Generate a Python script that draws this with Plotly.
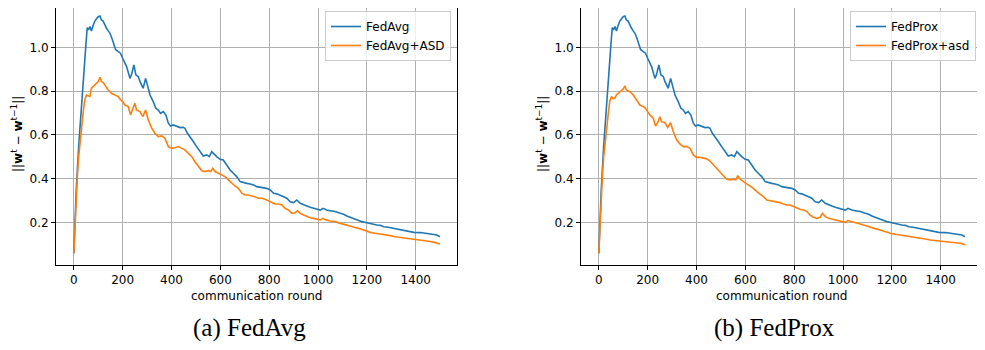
import plotly.graph_objects as go

# ---------------- data ----------------
rounds_blue = [0, 5, 10, 20, 30, 40, 50, 55, 60, 66, 72, 79, 86, 93, 100, 107, 113, 120, 127, 134,
               141, 148, 155, 161, 171, 182, 191, 200, 209, 216, 223, 230, 236, 246, 254, 264, 271,
               284, 294, 305, 312, 325, 336, 346, 355, 366, 377, 387, 396, 407, 421, 435, 448, 455,
               465, 476, 489, 503, 517, 530, 544, 555, 565, 574, 585, 599, 612, 626, 640, 653, 667,
               681, 694, 708, 722, 736, 749, 770, 790, 804, 818, 831, 845, 859, 872, 886, 900, 913,
               927, 941, 954, 968, 982, 995, 1009, 1020, 1036, 1050, 1070, 1091, 1105, 1118, 1132,
               1146, 1159, 1180, 1200, 1221, 1241, 1255, 1269, 1287, 1310, 1330, 1351, 1371, 1392,
               1419, 1446, 1467, 1487, 1499]
fedavg = [0.058, 0.22, 0.35, 0.55, 0.72, 0.87, 1.02, 1.09, 1.08, 1.095, 1.075, 1.10, 1.12, 1.13,
          1.14, 1.143, 1.125, 1.12, 1.10, 1.087, 1.075, 1.064, 1.045, 1.026, 0.99, 0.98, 0.973,
          0.95, 0.927, 0.912, 0.885, 0.858, 0.874, 0.919, 0.874, 0.866, 0.843, 0.813, 0.858, 0.805,
          0.782, 0.752, 0.721, 0.713, 0.698, 0.706, 0.69, 0.653, 0.64, 0.645, 0.64, 0.633, 0.634,
          0.63, 0.607, 0.592, 0.569, 0.546, 0.523, 0.503, 0.508, 0.5, 0.523, 0.512, 0.5, 0.488,
          0.485, 0.462, 0.439, 0.424, 0.409, 0.386, 0.381, 0.378, 0.375, 0.371, 0.363, 0.36, 0.355,
          0.348, 0.333, 0.33, 0.325, 0.317, 0.31, 0.294, 0.29, 0.302, 0.287, 0.279, 0.275, 0.269,
          0.264, 0.26, 0.256, 0.264, 0.256, 0.253, 0.249, 0.241, 0.237, 0.229, 0.223, 0.215, 0.211,
          0.203, 0.198, 0.192, 0.188, 0.186, 0.18, 0.177, 0.172, 0.168, 0.162, 0.157, 0.154, 0.153,
          0.15, 0.147, 0.142, 0.134]
fedprox = list(fedavg)  # the blue curve is the same in both panels

rounds_asd = [0, 5, 10, 15, 20, 30, 40, 45, 52, 59, 66, 72, 79, 86, 93, 100, 107, 113, 120, 127,
              134, 141, 154, 168, 182, 191, 200, 209, 223, 232, 243, 250, 257, 271, 282, 294, 305,
              319, 332, 346, 360, 373, 387, 400, 414, 428, 442, 455, 469, 483, 496, 510, 524, 537,
              551, 561, 569, 578, 592, 606, 619, 633, 647, 660, 674, 688, 701, 715, 729, 742, 756,
              770, 783, 797, 810, 824, 838, 852, 865, 879, 893, 906, 916, 927, 941, 954, 968, 982,
              995, 1009, 1020, 1033, 1050, 1070, 1091, 1111, 1132, 1152, 1173, 1193, 1214, 1234,
              1255, 1275, 1296, 1316, 1337, 1357, 1378, 1405, 1433, 1460, 1480, 1499]
fedavg_asd = [0.058, 0.2, 0.33, 0.42, 0.5, 0.62, 0.72, 0.76, 0.782, 0.778, 0.775, 0.813, 0.82,
              0.828, 0.835, 0.843, 0.863, 0.843, 0.84, 0.828, 0.815, 0.805, 0.79, 0.782, 0.775,
              0.76, 0.752, 0.736, 0.729, 0.691, 0.721, 0.744, 0.713, 0.706, 0.683, 0.713, 0.668,
              0.63, 0.607, 0.592, 0.595, 0.584, 0.546, 0.538, 0.541, 0.546, 0.538, 0.531, 0.515,
              0.5, 0.477, 0.454, 0.436, 0.432, 0.436, 0.432, 0.447, 0.432, 0.424, 0.416, 0.409,
              0.394, 0.378, 0.366, 0.355, 0.333, 0.325, 0.325, 0.32, 0.317, 0.31, 0.31, 0.305,
              0.299, 0.29, 0.284, 0.284, 0.279, 0.264, 0.256, 0.241, 0.244, 0.253, 0.241, 0.233,
              0.226, 0.221, 0.218, 0.214, 0.211, 0.218, 0.211, 0.206, 0.203, 0.195, 0.188, 0.183,
              0.176, 0.17, 0.162, 0.154, 0.15, 0.147, 0.142, 0.139, 0.134, 0.131, 0.125, 0.122,
              0.119, 0.116, 0.112, 0.107, 0.101]
fedprox_asd = [0.058, 0.2, 0.33, 0.42, 0.5, 0.62, 0.71, 0.755, 0.775, 0.765, 0.768, 0.782, 0.79,
               0.798, 0.805, 0.81, 0.823, 0.805, 0.80, 0.797, 0.79, 0.782, 0.76, 0.736, 0.729,
               0.721, 0.706, 0.691, 0.675, 0.64, 0.66, 0.683, 0.66, 0.655, 0.634, 0.655, 0.614,
               0.576, 0.558, 0.546, 0.546, 0.538, 0.508, 0.497, 0.497, 0.493, 0.49, 0.48, 0.462,
               0.447, 0.432, 0.413, 0.397, 0.394, 0.397, 0.394, 0.413, 0.398, 0.386, 0.375, 0.368,
               0.355, 0.34, 0.33, 0.317, 0.302, 0.299, 0.298, 0.294, 0.29, 0.284, 0.279, 0.279,
               0.272, 0.264, 0.26, 0.256, 0.249, 0.233, 0.223, 0.218, 0.223, 0.241, 0.226, 0.218,
               0.214, 0.211, 0.206, 0.203, 0.2, 0.208, 0.203, 0.198, 0.192, 0.185, 0.177, 0.171,
               0.165, 0.157, 0.15, 0.145, 0.142, 0.139, 0.134, 0.131, 0.127, 0.124, 0.119, 0.116,
               0.113, 0.111, 0.107, 0.104, 0.098]

x_ticks = [0, 200, 400, 600, 800, 1000, 1200, 1400]
y_ticks = [0.2, 0.4, 0.6, 0.8, 1.0]
names_left = ["FedAvg", "FedAvg+ASD"]
names_right = ["FedProx", "FedProx+asd"]
captions = ["(a) FedAvg", "(b) FedProx"]
x_label = "communication round"

# ---------------- styling ----------------
BLUE = "#1f77b4"
ORANGE = "#ff7f0e"
WIN_W, WIN_H = 985, 350
OFF = 8                      # default page body margin
W, H = WIN_W - OFF, WIN_H - OFF
FONT = "DejaVu Sans"
FS = 12


def px(x):
    return (x - OFF) / W


def py(y):
    return (H - (y - OFF)) / H


bold_w = '<span style="font-weight:bold;font-size:12px">w</span>'
y_label = ("||" + bold_w + '<sup><span style="font-size:9px">t</span></sup> − ' + bold_w +
           '<sup><span style="font-size:9px">t−1</span></sup>||')

fig = go.Figure()
fig.add_trace(go.Scatter(x=rounds_blue, y=fedavg, name=names_left[0], mode="lines",
                         line=dict(color=BLUE, width=1.6), xaxis="x", yaxis="y", legend="legend"))
fig.add_trace(go.Scatter(x=rounds_asd, y=fedavg_asd, name=names_left[1], mode="lines",
                         line=dict(color=ORANGE, width=1.6), xaxis="x", yaxis="y", legend="legend"))
fig.add_trace(go.Scatter(x=rounds_blue, y=fedprox, name=names_right[0], mode="lines",
                         line=dict(color=BLUE, width=1.6), xaxis="x2", yaxis="y2", legend="legend2"))
fig.add_trace(go.Scatter(x=rounds_asd, y=fedprox_asd, name=names_right[1], mode="lines",
                         line=dict(color=ORANGE, width=1.6), xaxis="x2", yaxis="y2", legend="legend2"))

panels = [(55.5, 457.0), (580.5, 982.0)]
ytop, ybot = 8.0, 265.0
ydom = [py(ybot), 1.0]
# value scale: 1.0 at y=47.3 px, 0.2 at y=222.3 px
per_px = 0.8 / (222.3 - 47.3)
y_range = [0.2 - (ybot - 222.3) * per_px, 1.0 + (47.3 - ytop) * per_px]

axis_common = dict(showline=True, linecolor="black", linewidth=1, mirror=True,
                   ticks="outside", ticklen=3.5, tickwidth=0.8, tickcolor="black",
                   showgrid=True, gridcolor="#b0b0b0", gridwidth=0.8, zeroline=False,
                   automargin=False,
                   tickfont=dict(family=FONT, size=FS, color="black"))

layout = dict(width=W, height=H, margin=dict(l=0, r=0, t=0, b=0, autoexpand=False),
              paper_bgcolor="white", plot_bgcolor="white", showlegend=True)
for i, (x0, x1) in enumerate(panels):
    sfx = "" if i == 0 else str(i + 1)
    layout["xaxis" + sfx] = dict(domain=[px(x0), min(px(x1), 1.0)], range=[-75, 1569],
                                 tickvals=x_ticks, anchor="y" + sfx, **axis_common)
    layout["yaxis" + sfx] = dict(domain=ydom, range=y_range, tickvals=y_ticks,
                                 tickformat=".1f", anchor="x" + sfx, **axis_common)
    layout["legend" + sfx] = dict(x=px(x1 - 6), xanchor="right", y=py(11), yanchor="top",
                                  bgcolor="rgba(255,255,255,0.8)", bordercolor="#cccccc",
                                  borderwidth=1, font=dict(family=FONT, size=FS, color="black"),
                                  tracegroupgap=0, itemwidth=30)
fig.update_layout(**layout)

annotations = []
for i, (x0, x1) in enumerate(panels):
    cx = (x0 + x1) / 2
    annotations.append(dict(text=x_label, x=px(cx), y=py(296), xref="paper", yref="paper",
                            showarrow=False, xanchor="center", yanchor="middle",
                            font=dict(family=FONT, size=FS, color="black")))
    annotations.append(dict(text=y_label, x=px(x0 - 38), y=py((4 + ybot) / 2),
                            xref="paper", yref="paper", showarrow=False, textangle=-90,
                            xanchor="center", yanchor="middle",
                            font=dict(family=FONT, size=FS, color="black")))
    annotations.append(dict(text=captions[i], x=px(cx - 7), y=py(328), xref="paper",
                            yref="paper", showarrow=False, xanchor="center", yanchor="middle",
                            font=dict(family="Liberation Serif", size=25, color="black")))
fig.update_layout(annotations=annotations)

fig.write_html("out.html")
